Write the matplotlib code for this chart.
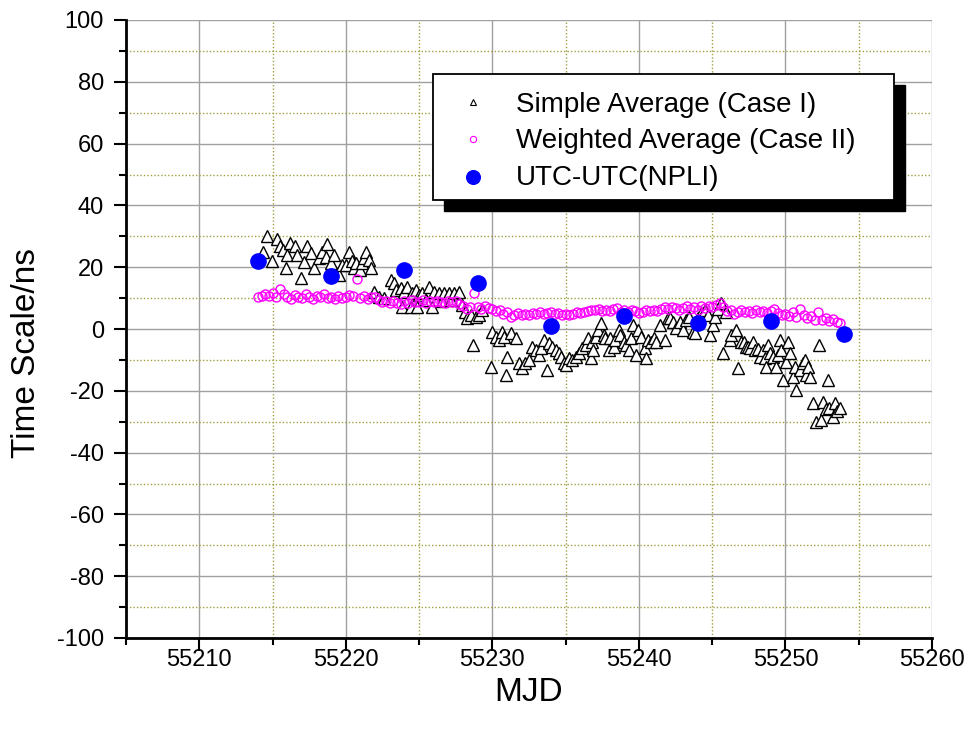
import matplotlib
matplotlib.use('Agg')
import matplotlib.pyplot as plt
from matplotlib.lines import Line2D
from matplotlib.patches import Rectangle
from matplotlib.ticker import MultipleLocator

plt.rcParams['font.family'] = ['Liberation Sans', 'DejaVu Sans']
plt.rcParams['axes.unicode_minus'] = False

# ---------------- data ----------------
# Simple Average (Case I)
sa_mjd = [
    55214.32, 55214.59, 55214.93, 55215.27, 55215.48, 55215.68, 55215.95, 55216.02, 55216.16, 55216.56,
    55216.70, 55216.97, 55217.18, 55217.38, 55217.65, 55217.86, 55218.20, 55218.40, 55218.67, 55218.74,
    55219.01, 55219.22, 55219.56, 55219.76, 55220.03, 55220.24, 55220.40, 55220.58, 55220.71, 55220.95,
    55221.10, 55221.26, 55221.39, 55221.60, 55221.73, 55221.94, 55222.28, 55222.62, 55223.10, 55223.30,
    55223.44, 55223.78, 55223.84, 55223.98, 55224.18, 55224.46, 55224.52, 55224.80, 55224.86, 55225.00,
    55225.20, 55225.45, 55225.68, 55225.88, 55226.02, 55226.36, 55226.55, 55226.70, 55227.04, 55227.20,
    55227.38, 55227.72, 55227.93, 55228.10, 55228.27, 55228.54, 55228.70, 55228.88, 55229.08, 55229.30,
    55229.90, 55229.97, 55230.24, 55230.45, 55230.65, 55230.78, 55230.92, 55230.99, 55231.26, 55231.60,
    55231.80, 55232.01, 55232.25, 55232.48, 55232.69, 55232.96, 55233.16, 55233.30, 55233.50, 55233.70,
    55233.84, 55234.05, 55234.32, 55234.52, 55234.66, 55234.86, 55235.00, 55235.20, 55235.41, 55235.68,
    55235.88, 55236.09, 55236.36, 55236.56, 55236.70, 55236.77, 55236.85, 55237.04, 55237.24, 55237.38,
    55237.59, 55237.72, 55237.93, 55238.06, 55238.27, 55238.40, 55238.61, 55238.74, 55238.95, 55239.15,
    55239.29, 55239.49, 55239.63, 55239.83, 55239.97, 55240.17, 55240.44, 55240.51, 55240.65, 55240.85,
    55241.00, 55241.19, 55241.46, 55241.80, 55242.01, 55242.14, 55242.35, 55242.55, 55242.82, 55243.03,
    55243.23, 55243.45, 55243.71, 55243.84, 55244.05, 55244.25, 55244.50, 55244.73, 55244.86, 55245.07,
    55245.20, 55245.40, 55245.61, 55245.75, 55245.95, 55246.22, 55246.29, 55246.63, 55246.77, 55246.97,
    55247.15, 55247.31, 55247.45, 55247.59, 55247.79, 55247.93, 55248.10, 55248.27, 55248.47, 55248.60,
    55248.67, 55248.80, 55248.95, 55249.15, 55249.35, 55249.50, 55249.63, 55249.70, 55249.83, 55250.03,
    55250.20, 55250.31, 55250.51, 55250.65, 55250.71, 55250.99, 55251.19, 55251.30, 55251.39, 55251.55,
    55251.67, 55251.87, 55252.07, 55252.28, 55252.41, 55252.55, 55252.75, 55252.89, 55253.00, 55253.23,
    55253.37, 55253.55, 55253.71,
]
sa_val = [
    25.0, 30.0, 22.0, 29.0, 27.0, 25.6, 19.7, 24.0, 27.8, 27.0,
    24.0, 16.5, 21.7, 27.0, 24.6, 19.7, 23.0, 25.0, 23.3, 27.5,
    21.4, 24.0, 17.5, 20.7, 20.7, 25.0, 22.0, 19.7, 21.4, 19.0,
    21.5, 23.0, 25.0, 22.3, 19.7, 12.0, 10.4, 10.0, 16.0, 15.0,
    12.6, 13.3, 7.1, 12.0, 13.6, 7.1, 11.6, 12.6, 7.1, 11.0,
    11.6, 9.5, 13.6, 7.1, 12.0, 11.6, 9.0, 11.6, 11.6, 9.5,
    11.6, 12.0, 7.8, 5.5, 3.6, 4.5, -5.2, 3.9, 4.5, 6.0,
    -12.3, -1.0, -2.6, -3.5, -1.0, -2.6, -14.9, -9.0, -1.3, -2.9,
    -11.0, -12.6, -11.0, -10.0, -5.8, -6.8, -8.4, -6.2, -3.6, -13.3,
    -4.5, -5.8, -6.8, -7.8, -9.0, -11.0, -11.6, -9.4, -10.0, -9.0,
    -7.8, -6.2, -5.2, -2.9, -9.4, -4.2, -6.8, -2.6, -0.3, 1.9,
    -1.9, -2.9, -6.8, -2.9, -5.8, -3.6, -0.3, -1.9, -4.2, -5.2,
    -6.8, -2.9, 1.3, -8.4, -0.3, -2.6, -6.2, -9.4, -3.6, -4.2,
    -3.0, -4.2, 1.3, -3.6, 3.6, 3.6, 2.3, 0.3, 2.3, -0.3,
    2.9, 4.0, -1.0, -1.3, 3.5, 5.2, 6.0, 4.5, -1.9, 1.3,
    4.0, 6.5, 8.4, -7.8, 5.5, -3.6, -1.9, -0.3, -12.6, -4.2,
    -4.2, -5.8, -5.8, -6.2, -4.2, -6.8, -6.5, -9.0, -6.8, -9.4,
    -12.3, -5.2, -7.8, -9.0, -12.3, -8.4, -3.6, -6.8, -16.5, -10.7,
    -4.2, -7.8, -15.5, -12.3, -19.7, -13.3, -11.0, -10.0, -14.9, -12.3,
    -15.5, -24.0, -30.0, -5.2, -29.4, -23.6, -26.0, -16.5, -25.6, -28.5,
    -24.0, -26.5, -25.6,
]

# Weighted Average (Case II)
wa_mjd = [
    55214.00, 55214.25, 55214.50, 55214.75, 55215.00, 55215.25, 55215.50, 55215.75,
    55216.00, 55216.25, 55216.50, 55216.75, 55217.00, 55217.25, 55217.50, 55217.75,
    55218.00, 55218.25, 55218.50, 55218.75, 55219.00, 55219.25, 55219.50, 55219.75,
    55220.00, 55220.25, 55220.50, 55220.75, 55221.00, 55221.25, 55221.50, 55221.75,
    55222.00, 55222.25, 55222.50, 55222.75, 55223.00, 55223.25, 55223.50, 55223.75,
    55224.00, 55224.25, 55224.50, 55224.75, 55225.00, 55225.25, 55225.50, 55225.75,
    55226.00, 55226.25, 55226.50, 55226.75, 55227.00, 55227.25, 55227.50, 55227.75,
    55228.00, 55228.25, 55228.50, 55228.75, 55229.00, 55229.25, 55229.50, 55229.75,
    55230.00, 55230.25, 55230.50, 55230.75, 55231.00, 55231.25, 55231.50, 55231.75,
    55232.00, 55232.25, 55232.50, 55232.75, 55233.00, 55233.25, 55233.50, 55233.75,
    55234.00, 55234.25, 55234.50, 55234.75, 55235.00, 55235.25, 55235.50, 55235.75,
    55236.00, 55236.25, 55236.50, 55236.75, 55237.00, 55237.25, 55237.50, 55237.75,
    55238.00, 55238.25, 55238.50, 55238.75, 55239.00, 55239.25, 55239.50, 55239.75,
    55240.00, 55240.25, 55240.50, 55240.75, 55241.00, 55241.25, 55241.50, 55241.75,
    55242.00, 55242.25, 55242.50, 55242.75, 55243.00, 55243.25, 55243.50, 55243.75,
    55244.00, 55244.25, 55244.50, 55244.75, 55245.00, 55245.25, 55245.50, 55245.75,
    55246.00, 55246.25, 55246.50, 55246.75, 55247.00, 55247.25, 55247.50, 55247.75,
    55248.00, 55248.25, 55248.50, 55248.75, 55249.00, 55249.25, 55249.50, 55249.75,
    55250.00, 55250.25, 55250.50, 55250.75, 55251.00, 55251.25, 55251.50, 55251.75,
    55252.00, 55252.25, 55252.50, 55252.75, 55253.00, 55253.25, 55253.50, 55253.75,
]
wa_val = [
    10.3, 10.8, 11.2, 10.6, 11.5, 10.4, 12.8, 11.2,
    10.2, 9.8, 11.0, 10.5, 10.0, 11.3, 10.4, 9.6,
    10.8, 10.2, 11.4, 9.9, 10.5, 9.7, 10.8, 10.1,
    10.3, 11.0, 10.6, 16.2, 10.0, 10.6, 9.8, 10.2,
    10.4, 9.5, 8.6, 8.9, 8.3, 9.0, 8.5, 8.0,
    9.0, 8.4, 9.3, 8.7, 8.8, 9.4, 8.5, 9.0,
    8.6, 9.2, 8.8, 8.4, 9.1, 8.7, 8.9, 8.2,
    7.6, 6.5, 7.0, 11.6, 7.2, 6.6, 7.4, 6.8,
    6.5, 5.8, 6.2, 5.0, 5.4, 3.8, 4.6, 5.2,
    4.4, 5.0, 4.6, 5.3, 5.0, 5.5, 4.8, 5.2,
    5.6, 4.9, 5.3, 4.6, 4.8, 4.5, 5.0, 5.4,
    5.2, 5.6, 5.8, 6.2, 6.0, 6.6, 5.7, 6.3,
    5.9, 6.4, 6.8, 5.5, 6.1, 5.6, 6.2, 5.8,
    5.2, 5.5, 6.0, 5.7, 6.3, 5.9, 6.6, 7.0,
    6.5, 7.2, 6.8, 6.2, 6.9, 7.4, 6.6, 7.1,
    6.0, 7.3, 6.8, 7.6, 7.2, 7.8, 8.4, 7.0,
    5.8, 6.2, 5.0, 5.6, 6.0, 5.4, 5.7, 5.2,
    6.1, 5.5, 5.9, 5.3, 5.8, 6.4, 5.2, 4.6,
    5.0, 4.2, 5.6, 4.0, 6.5, 4.5, 3.5, 4.2,
    3.0, 5.5, 2.8, 3.6, 2.5, 3.2, 2.2, 2.0,
]

# UTC-UTC(NPLI)
utc_mjd = [55214, 55219, 55224, 55229, 55234, 55239, 55244, 55249, 55254]
utc_val = [22.0, 17.2, 19.1, 14.9, 1.0, 4.2, 1.9, 2.6, -1.6]

labels = ['Simple Average (Case I)', 'Weighted Average (Case II)', 'UTC-UTC(NPLI)']

# ---------------- figure ----------------
W, H = 969, 734
fig = plt.figure(figsize=(W / 100, H / 100), dpi=100)
ax = fig.add_axes([126 / W, 96 / H, 806 / W, 618 / H])

ax.set_xlim(55205, 55260)
ax.set_ylim(-100, 100)
ax.xaxis.set_major_locator(MultipleLocator(10))
ax.xaxis.set_minor_locator(MultipleLocator(5))
ax.yaxis.set_major_locator(MultipleLocator(20))
ax.yaxis.set_minor_locator(MultipleLocator(10))

ax.set_axisbelow(True)
ax.grid(which='major', color='#a0a0a0', lw=1.0, ls='-')
ax.grid(which='minor', color='#a0a040', lw=1.0, ls=(0, (1, 1.5)))
for t in ax.yaxis.get_major_ticks():
    if abs(t.get_loc() - 100) < 1e-6:
        t.gridline.set_visible(False)
for t in ax.xaxis.get_major_ticks():
    if abs(t.get_loc() - 55260) < 1e-6:
        t.gridline.set_visible(False)

for s in ['top', 'right']:
    ax.spines[s].set_visible(False)
for s in ['left', 'bottom']:
    ax.spines[s].set_linewidth(2.0)
    ax.spines[s].set_color('black')

ax.tick_params(which='major', direction='out', length=9, width=1.5, labelsize=17, color='black')
ax.tick_params(which='minor', direction='out', length=5, width=1.5, color='black')
ax.tick_params(axis='x', which='major', pad=-1)
ax.tick_params(axis='y', which='major', pad=7)

ax.plot(sa_mjd, sa_val, ls='none', marker='^', ms=8, mfc='white', mec='black', mew=1.0, zorder=3)
ax.plot(wa_mjd, wa_val, ls='none', marker='o', ms=6.5, mfc='none', mec='#ff00ff', mew=1.0, zorder=4)
ax.plot(utc_mjd, utc_val, ls='none', marker='o', ms=11, mfc='#0000ff', mec='#0000ff', zorder=5)

ax.set_xlabel('MJD', fontsize=24)
ax.set_ylabel('Time Scale/ns', fontsize=24)
ax.xaxis.set_label_coords(0.5, -0.063)
ax.yaxis.set_label_coords(-0.1037, 0.461)

# ---------------- legend (Origin style, with hard black shadow) ----------------
def fx(px):
    return px / W

def fy(py):
    return 1 - py / H

fig.add_artist(Rectangle((fx(444), fy(211)), 461 / W, 126 / H, transform=fig.transFigure,
                         facecolor='black', edgecolor='black', zorder=10))
fig.add_artist(Rectangle((fx(433), fy(200)), 461 / W, 126 / H, transform=fig.transFigure,
                         facecolor='white', edgecolor='black', lw=1.3, zorder=11))

handle_styles = [
    dict(marker='^', ms=4, mfc='white', mec='black', mew=0.8),
    dict(marker='o', ms=4.5, mfc='none', mec='#ff00ff', mew=0.8),
    dict(marker='o', ms=10, mfc='#0000ff', mec='#0000ff', mew=0.8),
]
rows_marker = [102, 139, 177]
rows_text = [112, 148.5, 185]
for lab, st, ym, yt in zip(labels, handle_styles, rows_marker, rows_text):
    fig.add_artist(Line2D([fx(473)], [fy(ym)], ls='none', transform=fig.transFigure, zorder=12, **st))
    fig.text(fx(516), fy(yt), lab, fontsize=20, ha='left', va='baseline', zorder=12)

fig.savefig('out.png', dpi=100)
